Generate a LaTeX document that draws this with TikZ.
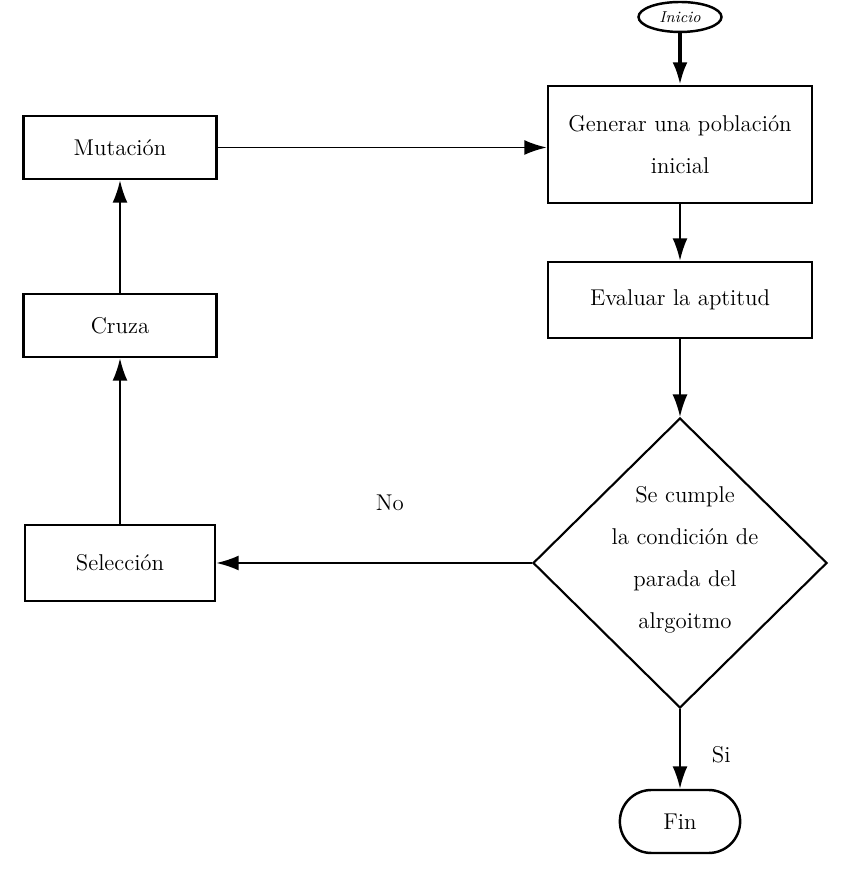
\documentclass[tikz,border=0pt]{standalone}
\usepackage{tikz}
\usetikzlibrary {arrows.meta}
\usetikzlibrary {shapes.geometric}
\usetikzlibrary {shapes.misc}

\tikzset{
  caja/.style={draw, line width=1.4pt, rectangle, align=center, font=\fontsize{13}{24}\selectfont},
  flecha/.style={-{Latex[length=4.5mm, width=3mm]}, line width=1.1pt},
}

\begin{document}
\begin{tikzpicture}
        \useasboundingbox (0,0) rectangle (17.24,17.5);

        % 右の列
        \node[draw, ellipse, line width=1.4pt, minimum width=1.66cm, minimum height=0.6cm, inner sep=0pt, font=\fontsize{9}{10}\selectfont\itshape] (inicio) at (13.6, 17.16) {Inicio};
        \node[caja, minimum width=5.28cm, minimum height=2.34cm] (gen) at (13.6, 14.61) {Generar una población\\inicial};
        \node[caja, minimum width=5.28cm, minimum height=1.52cm] (eval) at (13.6, 11.5) {Evaluar la aptitud};
        \node[draw, diamond, line width=1.2pt, minimum width=5.88cm, minimum height=5.8cm, inner sep=0pt] (cond) at (13.6, 6.24) {};
        \node[align=center, font=\fontsize{13}{24}\selectfont] (condtexto) at (13.7, 6.3) {Se cumple\\la condición de\\parada del\\alrgoitmo};
        \node[draw, rounded rectangle, line width=1.4pt, minimum width=2.64cm, minimum height=1.26cm, font=\fontsize{13}{24}\selectfont] (fin) at (13.6, 1.07) {Fin};

        % 左の列
        \node[caja, minimum width=3.8cm, minimum height=1.52cm] (sel) at (2.4, 6.24) {Selección};
        \node[caja, minimum width=3.86cm, minimum height=1.26cm] (cruza) at (2.4, 10.99) {Cruza};
        \node[caja, minimum width=3.86cm, minimum height=1.26cm] (mut) at (2.4, 14.55) {Mutación};

        % 矢印
        \draw[flecha, line width=2pt] (inicio.south) -- (gen.north);
        \draw[flecha] (gen.south) -- (eval.north);
        \draw[flecha] (eval.south) -- (cond.north);
        \draw[flecha] (cond.south) -- (fin.north) node[pos=0.57, right=0.5cm, font=\fontsize{13}{24}\selectfont] {Si};
        \draw[flecha] (cond.west) -- (sel.east) node[pos=0.45, above=0.9cm, font=\fontsize{13}{24}\selectfont] {No};
        \draw[flecha] (sel.north) -- (cruza.south);
        \draw[flecha] (cruza.north) -- (mut.south);
        \draw[flecha] (mut.east) -- (mut.east -| gen.west);
      \end{tikzpicture}
\end{document}
